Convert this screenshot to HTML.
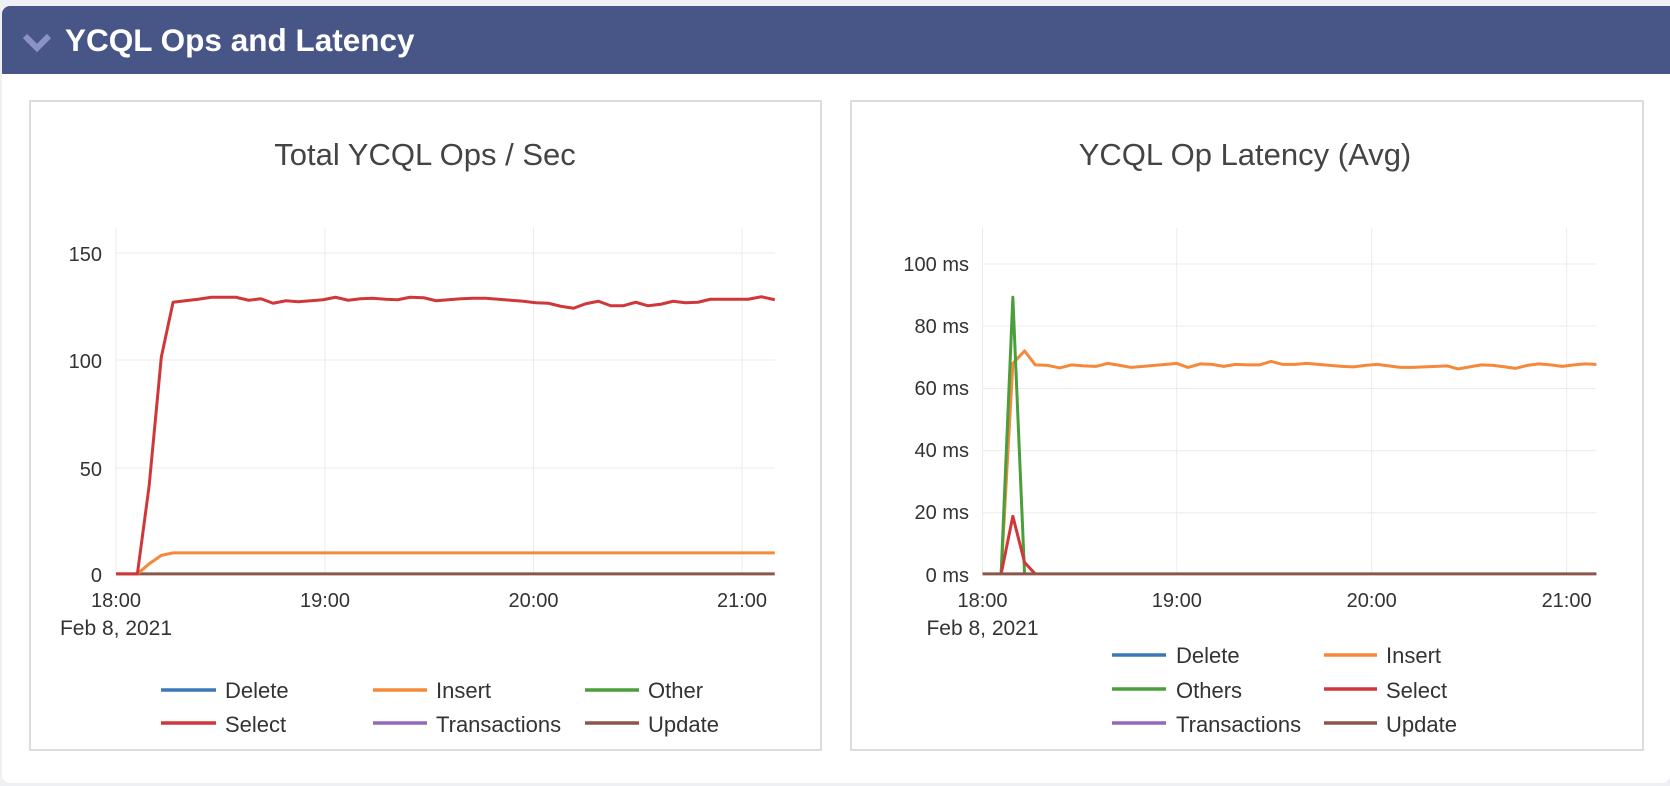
<!DOCTYPE html>
<html><head><meta charset="utf-8"><style>
html,body{margin:0;padding:0;background:#eef0f4;}
svg{display:block;font-family:"Liberation Sans",sans-serif;}
</style></head><body>
<svg width="1670" height="786" viewBox="0 0 1670 786" xmlns="http://www.w3.org/2000/svg">
<rect x="0" y="0" width="1670" height="786" fill="#eef0f4"/>
<rect x="2" y="6" width="1668" height="777" rx="8" fill="#ffffff"/>
<path d="M2 14 a8 8 0 0 1 8 -8 H1670 V74 H2 Z" fill="#485587"/>
<polyline points="25,36 37,48 49,36" fill="none" stroke="#8a93c4" stroke-width="6"/>
<text x="65" y="51" font-size="31.5" font-weight="bold" fill="#ffffff">YCQL Ops and Latency</text>

<rect x="30" y="101" width="791" height="649" fill="#fff" stroke="#dcdcdc" stroke-width="2"/>
<rect x="851" y="101" width="792" height="649" fill="#fff" stroke="#dcdcdc" stroke-width="2"/>

<text x="425" y="165" font-size="31" fill="#444" text-anchor="middle">Total YCQL Ops / Sec</text>
<text x="1245" y="165" font-size="31" fill="#444" text-anchor="middle">YCQL Op Latency (Avg)</text>

<g stroke="#ebebeb" stroke-width="1">
<line x1="116" y1="253" x2="775" y2="253"/><line x1="116" y1="360" x2="775" y2="360"/><line x1="116" y1="468" x2="775" y2="468"/>
<line x1="116" y1="228" x2="116" y2="574"/><line x1="325" y1="228" x2="325" y2="574"/><line x1="533.5" y1="228" x2="533.5" y2="574"/><line x1="742" y1="228" x2="742" y2="574"/>
</g>
<g font-size="20" fill="#333" text-anchor="end">
<text x="102" y="261">150</text><text x="102" y="368">100</text><text x="102" y="476">50</text><text x="102" y="582">0</text>
</g>
<g font-size="20" fill="#333" text-anchor="middle">
<text x="116" y="607">18:00</text><text x="325" y="607">19:00</text><text x="533.5" y="607">20:00</text><text x="742" y="607">21:00</text>
<text x="116" y="635" font-size="21">Feb 8, 2021</text>
</g>

<g stroke="#ebebeb" stroke-width="1">
<line x1="982.5" y1="264" x2="1596" y2="264"/><line x1="982.5" y1="326" x2="1596" y2="326"/><line x1="982.5" y1="388.5" x2="1596" y2="388.5"/><line x1="982.5" y1="450.6" x2="1596" y2="450.6"/><line x1="982.5" y1="512.8" x2="1596" y2="512.8"/>
<line x1="982.5" y1="228" x2="982.5" y2="574"/><line x1="1176.8" y1="228" x2="1176.8" y2="574"/><line x1="1371.7" y1="228" x2="1371.7" y2="574"/><line x1="1566.6" y1="228" x2="1566.6" y2="574"/>
</g>
<g font-size="20" fill="#333" text-anchor="end">
<text x="969" y="271">100 ms</text><text x="969" y="333">80 ms</text><text x="969" y="395">60 ms</text><text x="969" y="457">40 ms</text><text x="969" y="519">20 ms</text><text x="969" y="582">0 ms</text>
</g>
<g font-size="20" fill="#333" text-anchor="middle">
<text x="982.5" y="607">18:00</text><text x="1176.8" y="607">19:00</text><text x="1371.7" y="607">20:00</text><text x="1566.6" y="607">21:00</text>
<text x="982.5" y="635" font-size="21">Feb 8, 2021</text>
</g>

<g transform="scale(0.53248,0.50125)" fill="none" stroke-linejoin="round">
<polyline vector-effect="non-scaling-stroke" stroke="#8c564b" stroke-width="3" points="218,1145 1455,1145"/>
<polyline vector-effect="non-scaling-stroke" stroke="#f5883a" stroke-width="3" points="258,1145 280,1125 303,1108 325,1103 1455,1103"/>
<polyline vector-effect="non-scaling-stroke" stroke="#d0373a" stroke-width="3" points="218,1145 258,1145 280,970 303,712 325,603 348,600 372,597 397,593 420,593 443,593 467,599 490,596 513,605 537,600 560,602 584,600 607,598 630,593 654,599 677,596 700,595 724,597 747,598 770,593 796,594 819,600 842,598 866,596 889,595 912,595 936,597 959,599 983,601 1006,604 1030,605 1053,611 1077,615 1100,606 1124,601 1147,610 1170,610 1194,603 1217,610 1241,607 1264,601 1287,604 1311,603 1334,597 1358,597 1381,597 1405,597 1430,592 1455,598"/>
</g>

<g transform="translate(835,0) scale(0.53248,0.50125)" fill="none" stroke-linejoin="round">
<polyline vector-effect="non-scaling-stroke" stroke="#f5883a" stroke-width="3" points="312,1145 334,725 356,700 376,728 400,729 422,734 444,728 467,730 490,731 512,725 535,729 556,733 579,731 600,729 622,727 642,725 663,733 686,726 708,727 730,731 752,727 775,728 797,728 819,721 841,727 864,727 886,725 908,727 930,729 952,731 974,732 996,729 1018,727 1040,730 1062,733 1085,733 1107,732 1129,731 1150,730 1170,736 1192,732 1214,728 1236,729 1258,732 1278,735 1300,729 1322,726 1344,728 1366,731 1388,728 1408,726 1430,727"/>
<polyline vector-effect="non-scaling-stroke" stroke="#4a9e3b" stroke-width="3" points="312,1145 334,593 356,1145"/>
<polyline vector-effect="non-scaling-stroke" stroke="#d0373a" stroke-width="3" points="312,1145 334,1030 356,1122 376,1145"/>
<polyline vector-effect="non-scaling-stroke" stroke="#8c564b" stroke-width="3" points="277,1145 1430,1145"/>
</g>

<g stroke-width="3.5">
<line x1="161" y1="690" x2="216" y2="690" stroke="#3a78b8"/>
<line x1="373" y1="690" x2="427" y2="690" stroke="#f5883a"/>
<line x1="585" y1="690" x2="639" y2="690" stroke="#4a9e3b"/>
<line x1="161" y1="723" x2="216" y2="723" stroke="#d0373a"/>
<line x1="373" y1="723" x2="427" y2="723" stroke="#9467bd"/>
<line x1="585" y1="723" x2="639" y2="723" stroke="#8c564b"/>
</g>
<g font-size="22" fill="#333">
<text x="225" y="698">Delete</text><text x="436" y="698">Insert</text><text x="648" y="698">Other</text>
<text x="225" y="732">Select</text><text x="436" y="732">Transactions</text><text x="648" y="732">Update</text>
</g>

<g stroke-width="3.5">
<line x1="1112" y1="655" x2="1166" y2="655" stroke="#3a78b8"/>
<line x1="1324" y1="655" x2="1377" y2="655" stroke="#f5883a"/>
<line x1="1112" y1="689" x2="1166" y2="689" stroke="#4a9e3b"/>
<line x1="1324" y1="689" x2="1377" y2="689" stroke="#d0373a"/>
<line x1="1112" y1="723" x2="1166" y2="723" stroke="#9467bd"/>
<line x1="1324" y1="723" x2="1377" y2="723" stroke="#8c564b"/>
</g>
<g font-size="22" fill="#333">
<text x="1176" y="663">Delete</text><text x="1386" y="663">Insert</text>
<text x="1176" y="698">Others</text><text x="1386" y="698">Select</text>
<text x="1176" y="732">Transactions</text><text x="1386" y="732">Update</text>
</g>
</svg>
</body></html>
